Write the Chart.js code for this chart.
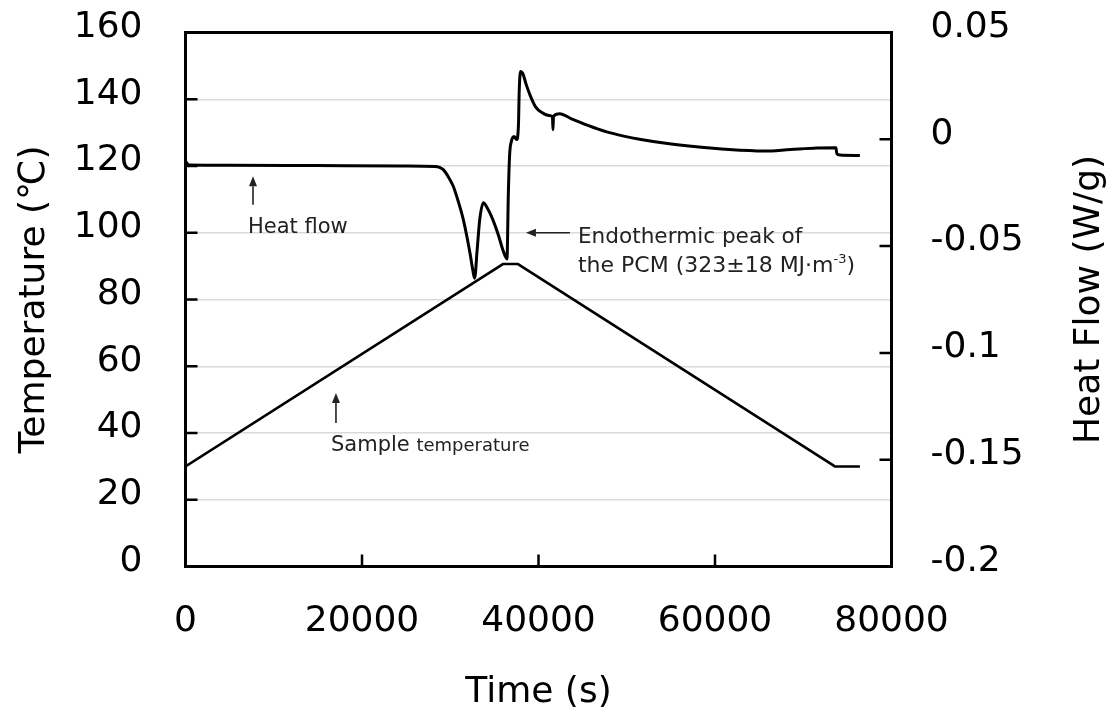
<!DOCTYPE html>
<html>
<head>
<meta charset="utf-8">
<script src="https://cdn.jsdelivr.net/npm/chart.js@4.4.1/dist/chart.umd.min.js"></script>
<style>
html,body{margin:0;padding:0;background:#fff;}
canvas{display:block;}
</style>
</head>
<body>
<canvas id="c" width="1118" height="717"></canvas>
<script>
// ---- axis ticks ----
const timeTicks = [0, 20000, 40000, 60000, 80000];
const tempTicks = [0, 20, 40, 60, 80, 100, 120, 140, 160];
const heatFlowTicks = [-0.2, -0.15, -0.1, -0.05, 0, 0.05];

// ---- sample temperature (°C) vs time (s) ----
const tempTime   = [0, 35970, 37670, 73590, 76420];
const tempValues = [30, 90.6, 90.6, 30, 30];

// ---- heat flow (W/g) vs time (s) ----
const hfTime = [0, 150, 400, 4930, 14850, 24760, 28270, 28780, 29210, 29700, 30340, 30900,
  31480, 32230, 32550, 32760, 33050, 33340, 33750, 34150, 34730, 35440, 36030, 36430,
  36580, 36730, 36920, 37220, 37520, 37730, 37820, 37970, 38220, 38610, 39110, 39710,
  40390, 41180, 41580, 41640, 41700, 42400, 43680, 45670, 47640, 49660, 51610, 54620,
  57610, 61580, 65540, 68550, 71550, 73700, 73810, 74150, 76420];
const hfValues = [-0.0100, -0.0112, -0.0120, -0.0121, -0.0123, -0.0125, -0.0127, -0.0131,
  -0.0142, -0.0170, -0.0220, -0.0290, -0.0376, -0.0531, -0.0611, -0.0650, -0.0517, -0.0376,
  -0.0297, -0.0318, -0.0367, -0.0447, -0.0526, -0.0560, -0.0259, -0.0072, -0.0011, 0.0013,
  -0.0001, 0.0069, 0.0233, 0.0317, 0.0308, 0.0256, 0.0200, 0.0149, 0.0125, 0.0111, 0.0106,
  0.0045, 0.0108, 0.0120, 0.0097, 0.0064, 0.0036, 0.0015, -0.0001, -0.0020, -0.0034,
  -0.0048, -0.0055, -0.0048, -0.0041, -0.0039, -0.0067, -0.0074, -0.0076];

// ---- annotations (data coordinates: time, temperature) ----
const annotations = [
  {type: 'text', t: 7080, temp: 100.0, parts: [{text: 'Heat flow', size: 21}]},
  {type: 'arrow', t1: 7650, temp1: 108.4, t2: 7650, temp2: 116.9},
  {type: 'text', t: 16490, temp: 34.6, parts: [{text: 'Sample ', size: 21}, {text: 'temperature', size: 18}]},
  {type: 'arrow', t1: 17050, temp1: 43.0, t2: 17050, temp2: 52.0},
  {type: 'text', t: 44470, temp: 97.0, parts: [{text: 'Endothermic peak of', size: 21.6}]},
  {type: 'text', t: 44470, temp: 88.3, parts: [{text: 'the PCM (323\u00b118 MJ\u00b7m', size: 22}, {text: '-3', size: 13, rise: 9}, {text: ')', size: 22}]},
  {type: 'arrow', t1: 43560, temp1: 100.0, t2: 38580, temp2: 100.0}
];

const FONT = '"DejaVu Sans", Verdana, sans-serif';

const toPts = (xs, ys) => xs.map((x, i) => ({x: x, y: ys[i]}));

const framePlugin = {
  id: 'frame',
  afterDatasetsDraw(chart) {
    const {ctx, scales} = chart;
    const sx = scales.x, sy = scales.y;
    ctx.save();
    ctx.fillStyle = '#222';
    ctx.strokeStyle = '#222';
    annotations.forEach(an => {
      if (an.type === 'text') {
        let px = sx.getPixelForValue(an.t);
        const py = sy.getPixelForValue(an.temp);
        ctx.textAlign = 'left';
        ctx.textBaseline = 'alphabetic';
        an.parts.forEach(p => {
          ctx.font = p.size + 'px ' + FONT;
          ctx.fillText(p.text, px, py - (p.rise || 0));
          px += ctx.measureText(p.text).width;
        });
      } else {
        const x1 = sx.getPixelForValue(an.t1), y1 = sy.getPixelForValue(an.temp1);
        const x2 = sx.getPixelForValue(an.t2), y2 = sy.getPixelForValue(an.temp2);
        const ang = Math.atan2(y2 - y1, x2 - x1);
        const hl = 10, hw = 4;
        const bx = x2 - hl * Math.cos(ang), by = y2 - hl * Math.sin(ang);
        ctx.lineWidth = 1.6;
        ctx.beginPath(); ctx.moveTo(x1, y1); ctx.lineTo(bx, by); ctx.stroke();
        ctx.beginPath();
        ctx.moveTo(x2, y2);
        ctx.lineTo(bx + hw * Math.sin(ang), by - hw * Math.cos(ang));
        ctx.lineTo(bx - hw * Math.sin(ang), by + hw * Math.cos(ang));
        ctx.closePath(); ctx.fill();
      }
    });
    ctx.restore();
  },
  afterDraw(chart) {
    const {ctx, chartArea: a, scales} = chart;
    ctx.save();
    ctx.strokeStyle = '#000';
    ctx.lineWidth = 2.5;
    const tl = 12;
    ctx.beginPath();
    scales.y.ticks.forEach((t, i) => { const p = scales.y.getPixelForTick(i); ctx.moveTo(a.left, p); ctx.lineTo(a.left + tl, p); });
    scales.y2.ticks.forEach((t, i) => { const p = scales.y2.getPixelForTick(i); ctx.moveTo(a.right, p); ctx.lineTo(a.right - tl, p); });
    scales.x.ticks.forEach((t, i) => { const p = scales.x.getPixelForTick(i); ctx.moveTo(p, a.bottom); ctx.lineTo(p, a.bottom - tl); });
    ctx.stroke();
    ctx.lineWidth = 3;
    ctx.strokeRect(a.left, a.top, a.right - a.left, a.bottom - a.top);
    // right axis title (reads bottom to top)
    ctx.fillStyle = '#000';
    ctx.font = '36px ' + FONT;
    ctx.translate(1099, (a.top + a.bottom) / 2);
    ctx.rotate(-Math.PI / 2);
    ctx.textAlign = 'center';
    ctx.textBaseline = 'alphabetic';
    ctx.fillText('Heat Flow (W/g)', 0, 0);
    ctx.restore();
  }
};

const tickFont = {family: FONT, size: 36};
const zeroPad = s => { s.paddingTop = 0; s.paddingBottom = 0; s.paddingLeft = 0; s.paddingRight = 0; };

new Chart(document.getElementById('c'), {
  type: 'line',
  data: {
    datasets: [
      {
        label: 'Sample temperature',
        data: toPts(tempTime, tempValues),
        yAxisID: 'y',
        borderColor: '#000',
        borderWidth: 2.5,
        pointRadius: 0,
        tension: 0,
        fill: false
      },
      {
        label: 'Heat flow',
        data: toPts(hfTime, hfValues),
        yAxisID: 'y2',
        borderColor: '#000',
        borderWidth: 3,
        pointRadius: 0,
        cubicInterpolationMode: 'monotone',
        fill: false
      }
    ]
  },
  options: {
    responsive: false,
    animation: false,
    layout: {padding: {top: 32.5, left: 0, right: 0, bottom: 0}},
    plugins: {legend: {display: false}, tooltip: {enabled: false}, title: {display: false}},
    scales: {
      x: {
        type: 'linear',
        min: timeTicks[0],
        max: timeTicks[timeTicks.length - 1],
        afterBuildTicks: s => { s.ticks = timeTicks.map(v => ({value: v})); },
        afterFit: s => { s.height = 150.5; zeroPad(s); },
        grid: {display: false, drawTicks: false},
        border: {display: false},
        ticks: {font: tickFont, color: '#000', padding: 34, maxRotation: 0, autoSkip: false,
                callback: v => String(v)},
        title: {display: true, text: 'Time (s)', font: tickFont, color: '#000', padding: {top: 0, bottom: 3}}
      },
      y: {
        type: 'linear',
        position: 'left',
        min: tempTicks[0],
        max: tempTicks[tempTicks.length - 1],
        afterBuildTicks: s => { s.ticks = tempTicks.map(v => ({value: v})); },
        afterFit: s => { s.width = 185.5; zeroPad(s); },
        grid: {display: true, drawTicks: false, color: '#d9d9d9', lineWidth: 1.5},
        border: {display: false},
        ticks: {font: tickFont, color: '#000', padding: 43, labelOffset: -5, callback: v => String(v)},
        title: {display: true, text: 'Temperature (\u2103)', font: tickFont, color: '#000', padding: {top: 13, bottom: 0}}
      },
      y2: {
        type: 'linear',
        position: 'right',
        min: heatFlowTicks[0],
        max: heatFlowTicks[heatFlowTicks.length - 1],
        afterBuildTicks: s => { s.ticks = heatFlowTicks.map(v => ({value: v})); },
        afterFit: s => { s.width = 226.5; zeroPad(s); },
        grid: {display: false, drawTicks: false, drawOnChartArea: false},
        border: {display: false},
        ticks: {font: tickFont, color: '#000', padding: 39, labelOffset: -5,
                callback: v => String(Number(Number(v).toFixed(2)))}
      }
    }
  },
  plugins: [framePlugin]
});
</script>
</body>
</html>
